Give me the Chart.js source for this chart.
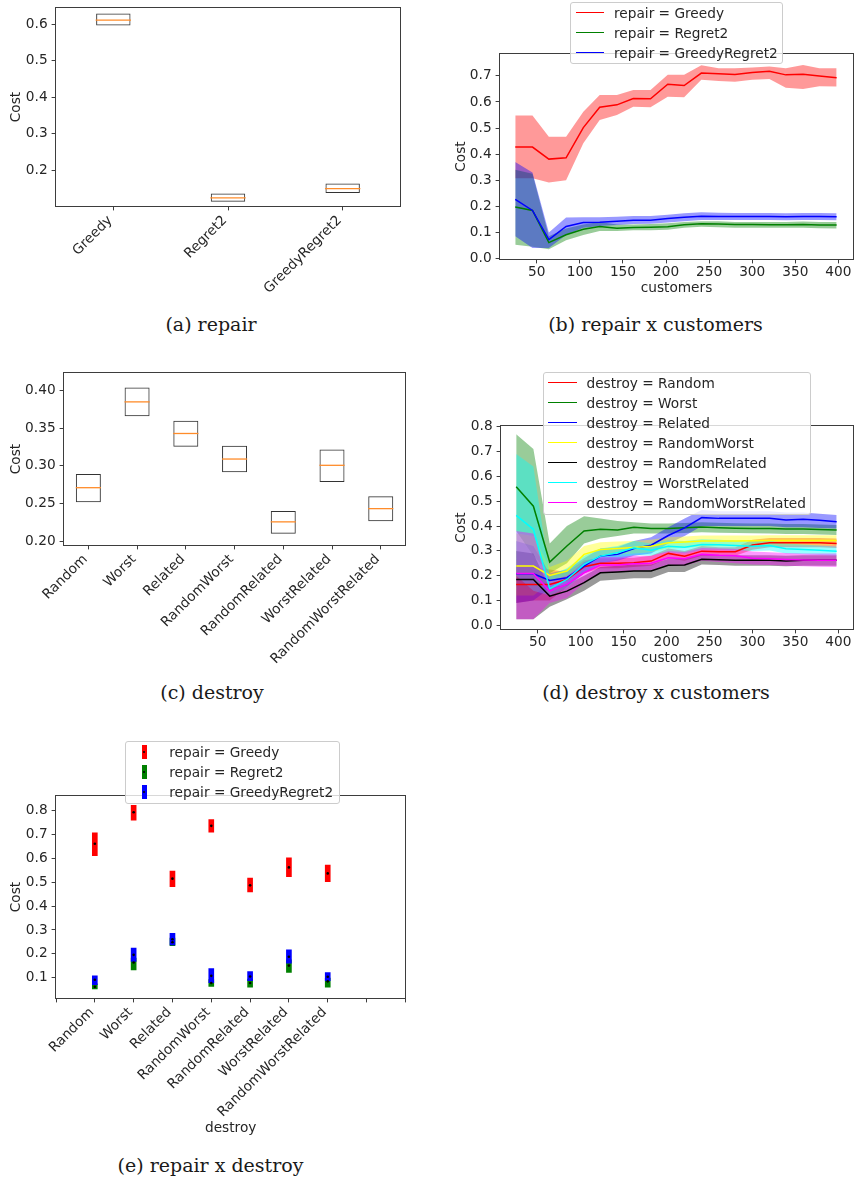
<!DOCTYPE html>
<html>
<head>
<meta charset="utf-8">
<title>repair / destroy cost comparison</title>
<script src="https://cdn.jsdelivr.net/npm/chart.js@4.4.1/dist/chart.umd.min.js"></script>
<style>
  html, body { margin: 0; background: #fff; }
  body { position: relative; width: 855px; height: 1180px; overflow: hidden; }
  canvas { position: absolute; }
  .caption { position: absolute; font-family: "DejaVu Serif", serif; font-size: 19px; color: #1a1a1a;
             white-space: nowrap; transform: translate(-50%, -50%); }
  .legend { position: absolute; box-sizing: border-box; background: rgba(255,255,255,0.8);
            border: 1px solid #cccccc; border-radius: 3px;
            font-family: "DejaVu Sans", sans-serif; font-size: 13.7px; color: #262626; }
  .legend .row { position: absolute; left: 0; right: 0; height: 16px; line-height: 16px; white-space: nowrap; }
  .legend .row span { position: absolute; }
</style>
</head>
<body>
<canvas id="repair"></canvas>
<canvas id="repairCustomers"></canvas>
<canvas id="destroy"></canvas>
<canvas id="destroyCustomers"></canvas>
<canvas id="repairDestroy"></canvas>
<script>
// ---- data ----
const repairNames = ['Greedy', 'Regret2', 'GreedyRegret2'];
const destroyNames = ['Random', 'Worst', 'Related', 'RandomWorst', 'RandomRelated', 'WorstRelated', 'RandomWorstRelated'];
const customers = [25, 45, 64, 84, 104, 123, 143, 162, 182, 202, 221, 241, 261, 280, 300, 320, 339, 359, 378, 398];

// (a) repair boxes
const repairBoxLow = [0.596, 0.114, 0.138];
const repairBoxHigh = [0.629, 0.137, 0.164];
const repairMedian = [0.611, 0.125, 0.150];

// (c) destroy boxes
const destroyBoxLow = [0.2518, 0.3657, 0.3252, 0.2914, 0.2102, 0.2786, 0.2268];
const destroyBoxHigh = [0.2892, 0.4035, 0.3595, 0.3265, 0.2402, 0.3217, 0.2598];
const destroyMedian = [0.2711, 0.3846, 0.3428, 0.3090, 0.2259, 0.3007, 0.2434];

// (b) repair x customers
const greedyMean = [0.427, 0.427, 0.381, 0.386, 0.502, 0.580, 0.589, 0.613, 0.612, 0.668, 0.663, 0.711, 0.708, 0.705, 0.713, 0.718, 0.704, 0.706, 0.700, 0.693];
const greedyLow  = [0.308, 0.308, 0.291, 0.300, 0.442, 0.531, 0.550, 0.582, 0.580, 0.620, 0.618, 0.685, 0.680, 0.678, 0.685, 0.688, 0.655, 0.650, 0.660, 0.659];
const greedyHigh = [0.548, 0.548, 0.467, 0.467, 0.563, 0.627, 0.627, 0.646, 0.646, 0.704, 0.704, 0.741, 0.729, 0.729, 0.732, 0.736, 0.729, 0.742, 0.729, 0.729];
const regret2Mean = [0.197, 0.184, 0.061, 0.091, 0.112, 0.123, 0.116, 0.119, 0.120, 0.122, 0.129, 0.133, 0.132, 0.130, 0.130, 0.129, 0.129, 0.130, 0.128, 0.128];
const regret2Low  = [0.053, 0.045, 0.035, 0.070, 0.090, 0.105, 0.105, 0.108, 0.108, 0.110, 0.118, 0.122, 0.120, 0.118, 0.118, 0.118, 0.118, 0.118, 0.116, 0.115];
const regret2High = [0.340, 0.325, 0.085, 0.115, 0.130, 0.140, 0.130, 0.130, 0.132, 0.135, 0.140, 0.143, 0.143, 0.140, 0.140, 0.140, 0.140, 0.142, 0.140, 0.140];
const greedyRegret2Mean = [0.227, 0.184, 0.072, 0.123, 0.138, 0.139, 0.143, 0.147, 0.147, 0.153, 0.158, 0.162, 0.161, 0.161, 0.161, 0.161, 0.160, 0.161, 0.161, 0.160];
const greedyRegret2Low  = [0.085, 0.040, 0.040, 0.090, 0.118, 0.125, 0.128, 0.132, 0.133, 0.138, 0.143, 0.148, 0.148, 0.148, 0.148, 0.148, 0.147, 0.148, 0.148, 0.147];
const greedyRegret2High = [0.370, 0.330, 0.100, 0.157, 0.158, 0.158, 0.160, 0.163, 0.163, 0.168, 0.173, 0.177, 0.175, 0.174, 0.174, 0.174, 0.173, 0.174, 0.174, 0.173];

// (d) destroy x customers
const randomMean = [0.165, 0.165, 0.165, 0.185, 0.236, 0.250, 0.250, 0.252, 0.259, 0.290, 0.279, 0.299, 0.297, 0.297, 0.324, 0.333, 0.333, 0.333, 0.333, 0.330];
const randomLow  = [0.090, 0.100, 0.100, 0.155, 0.210, 0.230, 0.230, 0.235, 0.240, 0.270, 0.260, 0.280, 0.280, 0.280, 0.305, 0.315, 0.315, 0.315, 0.315, 0.312];
const randomHigh = [0.240, 0.235, 0.225, 0.215, 0.262, 0.270, 0.270, 0.272, 0.280, 0.310, 0.300, 0.320, 0.315, 0.315, 0.345, 0.352, 0.352, 0.352, 0.352, 0.350];
const worstMean = [0.558, 0.480, 0.255, 0.320, 0.380, 0.387, 0.384, 0.395, 0.390, 0.390, 0.393, 0.396, 0.393, 0.391, 0.390, 0.390, 0.388, 0.388, 0.386, 0.384];
const worstLow  = [0.380, 0.280, 0.210, 0.250, 0.330, 0.350, 0.360, 0.370, 0.370, 0.370, 0.372, 0.375, 0.373, 0.372, 0.371, 0.370, 0.368, 0.368, 0.366, 0.364];
const worstHigh = [0.770, 0.710, 0.330, 0.400, 0.440, 0.430, 0.420, 0.415, 0.410, 0.410, 0.412, 0.415, 0.413, 0.411, 0.410, 0.410, 0.408, 0.408, 0.406, 0.404];
const relatedMean = [0.208, 0.208, 0.181, 0.192, 0.239, 0.279, 0.286, 0.310, 0.323, 0.362, 0.393, 0.434, 0.431, 0.432, 0.432, 0.431, 0.424, 0.427, 0.423, 0.417];
const relatedLow  = [0.090, 0.100, 0.150, 0.160, 0.210, 0.250, 0.260, 0.280, 0.290, 0.330, 0.360, 0.400, 0.400, 0.400, 0.400, 0.400, 0.395, 0.395, 0.392, 0.390];
const relatedHigh = [0.340, 0.320, 0.210, 0.225, 0.270, 0.310, 0.315, 0.340, 0.355, 0.395, 0.430, 0.465, 0.460, 0.460, 0.460, 0.460, 0.455, 0.455, 0.450, 0.445];
const randomWorstMean = [0.239, 0.239, 0.201, 0.219, 0.286, 0.306, 0.310, 0.314, 0.319, 0.333, 0.336, 0.340, 0.340, 0.340, 0.341, 0.342, 0.342, 0.342, 0.342, 0.342];
const randomWorstLow  = [0.120, 0.120, 0.170, 0.190, 0.255, 0.280, 0.285, 0.290, 0.295, 0.310, 0.312, 0.318, 0.318, 0.318, 0.320, 0.322, 0.322, 0.322, 0.322, 0.322];
const randomWorstHigh = [0.370, 0.360, 0.235, 0.260, 0.320, 0.335, 0.338, 0.340, 0.345, 0.355, 0.358, 0.362, 0.362, 0.362, 0.362, 0.363, 0.363, 0.363, 0.363, 0.363];
const randomRelatedMean = [0.185, 0.185, 0.118, 0.138, 0.172, 0.212, 0.215, 0.219, 0.219, 0.242, 0.243, 0.266, 0.264, 0.262, 0.262, 0.262, 0.259, 0.262, 0.262, 0.262];
const randomRelatedLow  = [0.025, 0.025, 0.075, 0.105, 0.140, 0.180, 0.185, 0.190, 0.190, 0.215, 0.215, 0.245, 0.243, 0.240, 0.240, 0.240, 0.238, 0.240, 0.240, 0.240];
const randomRelatedHigh = [0.300, 0.290, 0.150, 0.165, 0.200, 0.235, 0.240, 0.245, 0.245, 0.268, 0.270, 0.285, 0.283, 0.282, 0.282, 0.282, 0.280, 0.282, 0.282, 0.282];
const worstRelatedMean = [0.443, 0.387, 0.148, 0.185, 0.246, 0.279, 0.293, 0.313, 0.303, 0.319, 0.315, 0.326, 0.325, 0.322, 0.319, 0.322, 0.309, 0.306, 0.303, 0.299];
const worstRelatedLow  = [0.200, 0.140, 0.120, 0.150, 0.210, 0.250, 0.265, 0.285, 0.280, 0.295, 0.290, 0.305, 0.305, 0.302, 0.300, 0.302, 0.290, 0.287, 0.284, 0.280];
const worstRelatedHigh = [0.690, 0.640, 0.200, 0.230, 0.280, 0.310, 0.320, 0.340, 0.330, 0.343, 0.340, 0.347, 0.345, 0.342, 0.338, 0.342, 0.330, 0.326, 0.322, 0.318];
const randomWorstRelatedMean = [0.209, 0.209, 0.138, 0.165, 0.212, 0.243, 0.243, 0.248, 0.250, 0.272, 0.268, 0.286, 0.282, 0.280, 0.270, 0.268, 0.265, 0.263, 0.262, 0.262];
const randomWorstRelatedLow  = [0.025, 0.025, 0.090, 0.110, 0.170, 0.210, 0.215, 0.220, 0.222, 0.245, 0.240, 0.260, 0.255, 0.250, 0.245, 0.243, 0.240, 0.238, 0.236, 0.235];
const randomWorstRelatedHigh = [0.380, 0.370, 0.180, 0.200, 0.250, 0.275, 0.275, 0.280, 0.280, 0.300, 0.296, 0.312, 0.310, 0.308, 0.298, 0.295, 0.292, 0.290, 0.290, 0.290];

// (e) repair x destroy (mean and interval per destroy operator)
const crossGreedyMean = [0.661, 0.793, 0.515, 0.736, 0.487, 0.562, 0.537];
const crossGreedyLow  = [0.611, 0.760, 0.481, 0.710, 0.459, 0.523, 0.502];
const crossGreedyHigh = [0.707, 0.822, 0.547, 0.762, 0.517, 0.602, 0.572];
const crossRegret2Mean = [0.062, 0.164, 0.249, 0.078, 0.078, 0.151, 0.085];
const crossRegret2Low  = [0.053, 0.133, 0.234, 0.064, 0.061, 0.122, 0.061];
const crossRegret2High = [0.075, 0.182, 0.266, 0.092, 0.094, 0.175, 0.099];
const crossGreedyRegret2Mean = [0.092, 0.196, 0.261, 0.108, 0.105, 0.188, 0.104];
const crossGreedyRegret2Low  = [0.071, 0.168, 0.238, 0.080, 0.088, 0.161, 0.088];
const crossGreedyRegret2High = [0.108, 0.224, 0.286, 0.138, 0.126, 0.217, 0.122];

// tick labels
const repairCostTicks = [0.2, 0.3, 0.4, 0.5, 0.6];
const destroyCostTicks = [0.20, 0.25, 0.30, 0.35, 0.40];
const repairCustCostTicks = [0.0, 0.1, 0.2, 0.3, 0.4, 0.5, 0.6, 0.7];
const destroyCustCostTicks = [0.0, 0.1, 0.2, 0.3, 0.4, 0.5, 0.6, 0.7, 0.8];
const crossCostTicks = [0.1, 0.2, 0.3, 0.4, 0.5, 0.6, 0.7, 0.8];
const customerTicks = [50, 100, 150, 200, 250, 300, 350, 400];
const destroySlots = [-1, 0, 1, 2, 3, 4, 5, 6, 7, 8];

// ---- styling ----
const repairColors = ['#ff0000', '#008000', '#0000ff'];
const destroyColors = ['#ff0000', '#008000', '#0000ff', '#ffff00', '#000000', '#00ffff', '#ff00ff'];
const SPINE = '#3d3d3d';
const FS = 13.7;
const LH = FS * 1.2;

Chart.defaults.font.family = '"DejaVu Sans", sans-serif';
Chart.defaults.font.size = FS;
Chart.defaults.color = '#262626';

function alpha(hex, a) {
  const n = parseInt(hex.slice(1), 16);
  return `rgba(${n >> 16},${(n >> 8) & 255},${n & 255},${a})`;
}

// draw the full axes box like matplotlib spines
const framePlugin = {
  id: 'frame',
  afterDatasetsDraw(chart) {
    const { ctx, chartArea: a } = chart;
    ctx.save();
    ctx.strokeStyle = SPINE;
    ctx.lineWidth = 1;
    ctx.strokeRect(Math.round(a.left) - 0.5, Math.round(a.top) - 0.5,
                   Math.round(a.right - a.left) + 1, Math.round(a.bottom - a.top) + 1);
    ctx.restore();
  }
};

function setupCanvas(id, area, left, xh) {
  const cv = document.getElementById(id);
  const top = area.t - 14;
  cv.style.left = left + 'px';
  cv.style.top = top + 'px';
  cv.width = area.r + 10 - left;
  cv.height = area.b + xh - top;
  return cv;
}

function tickGrid() {
  return { display: true, drawOnChartArea: false, drawTicks: true, tickLength: 4.4,
           tickWidth: 1, tickColor: SPINE, offset: false };
}

function yScale(area, left, range, ticks, digits, titleX) {
  return {
    type: 'linear', bounds: 'data', min: range[0], max: range[1],
    afterBuildTicks: s => { s.ticks = ticks.map(v => ({ value: v })); },
    afterFit: s => { s.width = area.l - left; },
    ticks: { padding: 4, callback: v => Number(v).toFixed(digits) },
    grid: tickGrid(),
    border: { display: false },
    title: { display: true, text: 'Cost', padding: { top: titleX - left - LH / 2, bottom: 0 } }
  };
}

function xLinear(area, xh, range, ticks, labelFn, title, titleY, rotated) {
  const opts = {
    type: 'linear', bounds: 'data', min: range[0], max: range[1], offset: false,
    afterBuildTicks: s => { s.ticks = ticks.map(v => ({ value: v })); },
    afterFit: s => { s.height = xh; },
    ticks: { padding: 1, autoSkip: false, callback: labelFn },
    grid: tickGrid(),
    border: { display: false },
    title: { display: true, text: title, padding: { top: 0, bottom: area.b + xh - titleY - LH / 2 } }
  };
  if (rotated) Object.assign(opts.ticks, { minRotation: 45, maxRotation: 45, labelOffset: -3, padding: 2 });
  return opts;
}

function xCategory(xh) {
  return {
    type: 'category', offset: true,
    afterFit: s => { s.height = xh; },
    ticks: { padding: 2, autoSkip: false, minRotation: 45, maxRotation: 45, labelOffset: -3 },
    grid: tickGrid(),
    border: { display: false }
  };
}

function baseOptions(scales) {
  return {
    responsive: false, animation: false, events: [], devicePixelRatio: 1,
    layout: { padding: { top: 14, right: 10, left: 0, bottom: 0 } },
    plugins: { legend: { display: false }, tooltip: { enabled: false },
               filler: { drawTime: 'beforeDatasetsDraw', propagate: false } },
    scales
  };
}

function boxDatasets(low, high, median, widthFrac, halfWidth) {
  return [
    { type: 'bar', data: low.map((v, i) => [v, high[i]]), backgroundColor: 'rgba(0,0,0,0)',
      borderColor: '#333333', borderWidth: 1, borderSkipped: false,
      barPercentage: widthFrac, categoryPercentage: 1, order: 1 },
    { type: 'line', data: median, showLine: false, pointStyle: 'line', pointRadius: halfWidth,
      pointBorderColor: '#ff8c2a', pointBorderWidth: 1.3, borderColor: '#ff8c2a', order: 0 }
  ];
}

function bandDatasets(color, mean, low, high, k) {
  const pts = arr => customers.map((x, i) => ({ x, y: arr[i] }));
  return [
    { type: 'line', data: pts(high), borderWidth: 0, borderColor: 'transparent', pointRadius: 0,
      fill: false, order: -3 * k },
    { type: 'line', data: pts(low), borderWidth: 0, borderColor: 'transparent', pointRadius: 0,
      fill: '-1', backgroundColor: alpha(color, 0.4), order: -3 * k - 1 },
    { type: 'line', data: pts(mean), borderWidth: 1.5, borderColor: color, pointRadius: 0,
      fill: false, order: -3 * k - 2 }
  ];
}

function addLegend(box, labels, colors, kind) {
  const el = document.createElement('div');
  el.className = 'legend';
  Object.assign(el.style, { left: box.l + 'px', top: box.t + 'px',
                            width: (box.r - box.l) + 'px', height: (box.b - box.t) + 'px' });
  labels.forEach((text, i) => {
    const row = document.createElement('div');
    row.className = 'row';
    row.style.top = (box.y0 + i * 20 - box.t - 1 - 8) + 'px';
    let handle;
    if (kind === 'line') {
      handle = `<span style="left:${box.hx0}px;top:7.25px;width:${box.hx1 - box.hx0}px;height:1.5px;background:${colors[i]}"></span>`;
    } else {
      handle = `<span style="left:${box.hx0 - 2.3}px;top:1px;width:4.6px;height:14px;background:${colors[i]}"></span>` +
               `<span style="left:${box.hx0 - 1.1}px;top:6.9px;width:2.2px;height:2.2px;border-radius:50%;background:#000"></span>`;
    }
    row.innerHTML = handle + `<span style="left:${box.tx}px;top:0">${text}</span>`;
    el.appendChild(row);
  });
  document.body.appendChild(el);
}

function addCaption(text, cx, cy) {
  const el = document.createElement('div');
  el.className = 'caption';
  el.textContent = text;
  el.style.left = cx + 'px';
  el.style.top = cy + 'px';
  document.body.appendChild(el);
}

// ---- (a) repair ----
{
  const area = { l: 56, t: 3, r: 409, b: 206 };
  const cv = setupCanvas('repair', area, 0, 100);
  new Chart(cv, {
    type: 'bar',
    data: { labels: repairNames, datasets: boxDatasets(repairBoxLow, repairBoxHigh, repairMedian, 0.3, 17.7) },
    options: baseOptions({ x: xCategory(100), y: yScale(area, 0, [0.1027, 0.644], repairCostTicks, 1, 16.3) }),
    plugins: [framePlugin]
  });
}

// ---- (b) repair x customers ----
{
  const area = { l: 500, t: 54, r: 853, b: 259 };
  const cv = setupCanvas('repairCustomers', area, 430, 45);
  const datasets = [
    ...bandDatasets(repairColors[0], greedyMean, greedyLow, greedyHigh, 0),
    ...bandDatasets(repairColors[1], regret2Mean, regret2Low, regret2High, 1),
    ...bandDatasets(repairColors[2], greedyRegret2Mean, greedyRegret2Low, greedyRegret2High, 2)
  ];
  new Chart(cv, {
    type: 'line',
    data: { datasets },
    options: baseOptions({
      x: xLinear(area, 45, [7.3, 417], customerTicks, v => String(v), 'customers', 288.3, false),
      y: yScale(area, 430, [-0.002, 0.784], repairCustCostTicks, 1, 461.3)
    }),
    plugins: [framePlugin]
  });
}

// ---- (c) destroy ----
{
  const area = { l: 64, t: 373, r: 409, b: 545 };
  const cv = setupCanvas('destroy', area, 0, 125);
  new Chart(cv, {
    type: 'bar',
    data: { labels: destroyNames, datasets: boxDatasets(destroyBoxLow, destroyBoxHigh, destroyMedian, 0.513, 12.6) },
    options: baseOptions({ x: xCategory(125), y: yScale(area, 0, [0.1953, 0.4228], destroyCostTicks, 2, 16.2) }),
    plugins: [framePlugin]
  });
}

// ---- (d) destroy x customers ----
{
  const area = { l: 501, t: 426, r: 853, b: 629 };
  const cv = setupCanvas('destroyCustomers', area, 430, 45);
  const series = [
    [randomMean, randomLow, randomHigh],
    [worstMean, worstLow, worstHigh],
    [relatedMean, relatedLow, relatedHigh],
    [randomWorstMean, randomWorstLow, randomWorstHigh],
    [randomRelatedMean, randomRelatedLow, randomRelatedHigh],
    [worstRelatedMean, worstRelatedLow, worstRelatedHigh],
    [randomWorstRelatedMean, randomWorstRelatedLow, randomWorstRelatedHigh]
  ];
  const datasets = series.flatMap((s, k) => bandDatasets(destroyColors[k], s[0], s[1], s[2], k));
  new Chart(cv, {
    type: 'line',
    data: { datasets },
    options: baseOptions({
      x: xLinear(area, 45, [7.3, 417], customerTicks, v => String(v), 'customers', 658.7, false),
      y: yScale(area, 430, [-0.0145, 0.803], destroyCustCostTicks, 1, 461.2)
    }),
    plugins: [framePlugin]
  });
}

// ---- (e) repair x destroy ----
{
  const area = { l: 56, t: 796, r: 409, b: 998 };
  const cv = setupCanvas('repairDestroy', area, 0, 140);
  const cross = [
    [crossGreedyMean, crossGreedyLow, crossGreedyHigh],
    [crossRegret2Mean, crossRegret2Low, crossRegret2High],
    [crossGreedyRegret2Mean, crossGreedyRegret2Low, crossGreedyRegret2High]
  ];
  const bars = cross.map((s, k) => ({
    type: 'bar', data: s[1].map((lo, i) => ({ x: i, y: [lo, s[2][i]] })),
    backgroundColor: repairColors[k], borderWidth: 0, barThickness: 5, grouped: false, order: 10 - k
  }));
  const dots = cross.map((s, k) => ({
    type: 'scatter', data: s[0].map((m, i) => ({ x: i, y: m })),
    pointRadius: 1.3, pointBackgroundColor: '#000', pointBorderWidth: 0, showLine: false, order: 3 - k
  }));
  new Chart(cv, {
    type: 'bar',
    data: { datasets: [...bars, ...dots] },
    options: baseOptions({
      x: xLinear(area, 140, [-1, 8], destroySlots, v => destroyNames[v] || '', 'destroy', 1128.7, true),
      y: yScale(area, 0, [0.0153, 0.861], crossCostTicks, 1, 16.2)
    }),
    plugins: [framePlugin]
  });
}

// ---- legends ----
addLegend({ l: 570, t: 1.7, r: 783, b: 64.3, y0: 12.7, hx0: 4.5, hx1: 33, tx: 43 },
          repairNames.map(n => 'repair = ' + n), repairColors, 'line');
addLegend({ l: 543, t: 372, r: 811, b: 515, y0: 382.7, hx0: 3.5, hx1: 32.5, tx: 42.5 },
          destroyNames.map(n => 'destroy = ' + n), destroyColors, 'line');
addLegend({ l: 125.3, t: 740.7, r: 340, b: 804, y0: 751.7, hx0: 18, tx: 43 },
          repairNames.map(n => 'repair = ' + n), repairColors, 'errorbar');

// ---- captions ----
addCaption('(a) repair', 211, 324);
addCaption('(b) repair x customers', 655.5, 324);
addCaption('(c) destroy', 212, 692);
addCaption('(d) destroy x customers', 656, 692);
addCaption('(e) repair x destroy', 210.5, 1165);
</script>
</body>
</html>
